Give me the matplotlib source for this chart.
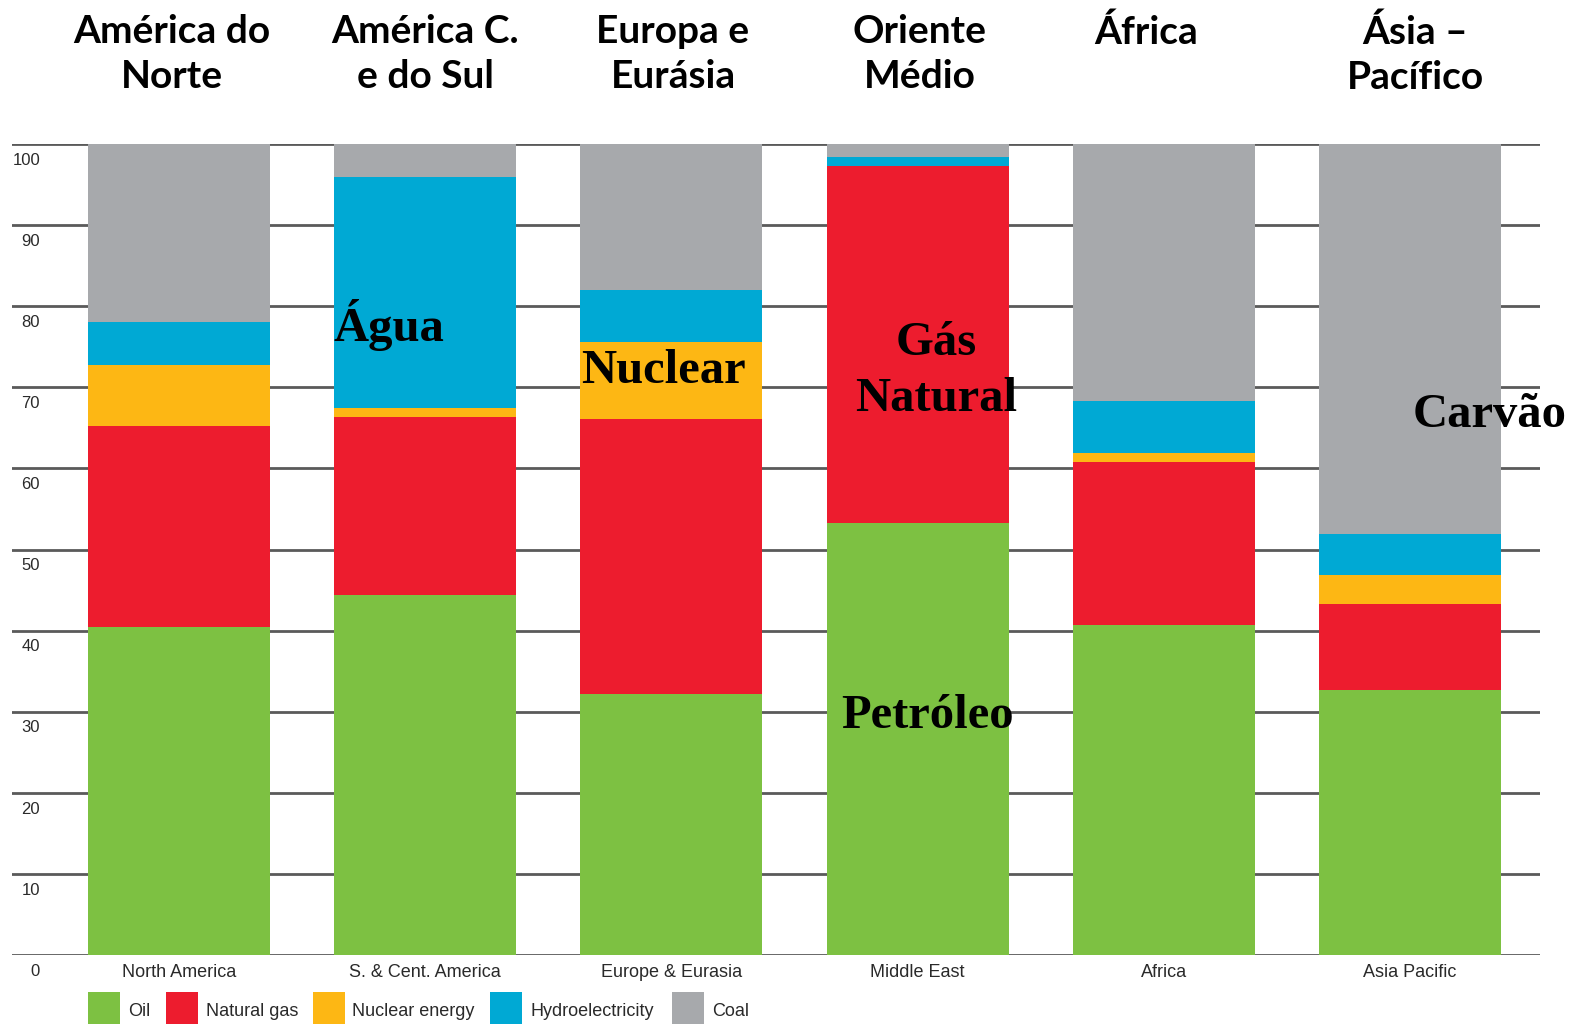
import matplotlib
matplotlib.use("Agg")
import matplotlib.pyplot as plt
from matplotlib.patches import Rectangle
import numpy as np

regions = ["North America", "S. & Cent. America", "Europe & Eurasia", "Middle East", "Africa", "Asia Pacific"]
headers = ["América do\nNorte", "América C.\ne do Sul", "Europa e\nEurásia", "Oriente\nMédio", "África", "Ásia –\nPacífico"]
fuels = ["Oil", "Natural gas", "Nuclear energy", "Hydroelectricity", "Coal"]
oil     = [40.4, 44.4, 32.2, 53.3, 40.7, 32.7]
gas     = [24.8, 21.9, 33.9, 44.0, 20.1, 10.6]
nuclear = [7.5, 1.1, 9.5, 0.0, 1.1, 3.6]
hydro   = [5.4, 28.5, 6.4, 1.1, 6.4, 5.0]
coal    = [21.9, 4.1, 18.0, 1.6, 31.7, 48.1]
yticks = [0, 10, 20, 30, 40, 50, 60, 70, 80, 90, 100]
colors = ["#7DC142", "#ED1C2E", "#FDB714", "#00A9D4", "#A7A9AC"]

W, H = 1581, 1031
fig = plt.figure(figsize=(W / 100, H / 100), dpi=100)
ax = fig.add_axes([12 / W, (H - 955) / H, (1540 - 12) / W, (955 - 144) / H])
x0 = (12 - 179) / 246.2
x1 = (1540 - 179) / 246.2
ax.set_xlim(x0, x1)
ax.set_ylim(0, 100)
ax.axis("off")

narrow = ["Liberation Sans Narrow", "Liberation Sans", "DejaVu Sans"]

for t in yticks:
    ax.axhline(t, color="#5a5a5a", lw=2.0, zorder=1)
    ax.text(x0 + 28 / 246.2, t - 2.0, str(t), ha="right", va="center",
            fontsize=12, family=narrow, color="#2a2a2a")

x = np.arange(len(regions))
bottom = np.zeros(len(regions))
for vals, c, name in zip([oil, gas, nuclear, hydro, coal], colors, fuels):
    ax.bar(x, vals, bottom=bottom, width=0.739, color=c, zorder=2, label=name)
    bottom += np.array(vals)

for i, r in enumerate(regions):
    ax.text(i, -2.1, r, ha="center", va="center", fontsize=13, family=narrow, color="#2a2a2a")

# headers
hx = [172, 425, 673, 920, 1146, 1415]
for px, h in zip(hx, headers):
    fig.text(px / W, 1 - 14 / H, h, ha="center", va="top", fontsize=28, fontweight="bold",
             family=["Lato", "DejaVu Sans"], linespacing=1.35)

# legend
lx = [88, 166, 313, 490, 672]
tx = [128, 206, 352, 530, 712]
for px, tpx, c, name in zip(lx, tx, colors, fuels):
    fig.patches.append(Rectangle((px / W, (H - 1024) / H), 32 / W, 32 / H, transform=fig.transFigure,
                                 facecolor=c, edgecolor="none"))
    fig.text(tpx / W, 1 - 1011 / H, name, ha="left", va="center", fontsize=13, family=narrow, color="#2a2a2a")

serif = ["Liberation Serif", "DejaVu Serif"]
ann = [("Água", 389, 325), ("Nuclear", 663, 371), ("Gás\nNatural", 936, 371),
       ("Petróleo", 928, 716), ("Carvão", 1490, 415)]
for s, px, py in ann:
    fig.text(px / W, 1 - py / H, s, ha="center", va="center", fontsize=35, fontweight="bold",
             family=serif, linespacing=1.35)

fig.savefig("out.png", dpi=100)
